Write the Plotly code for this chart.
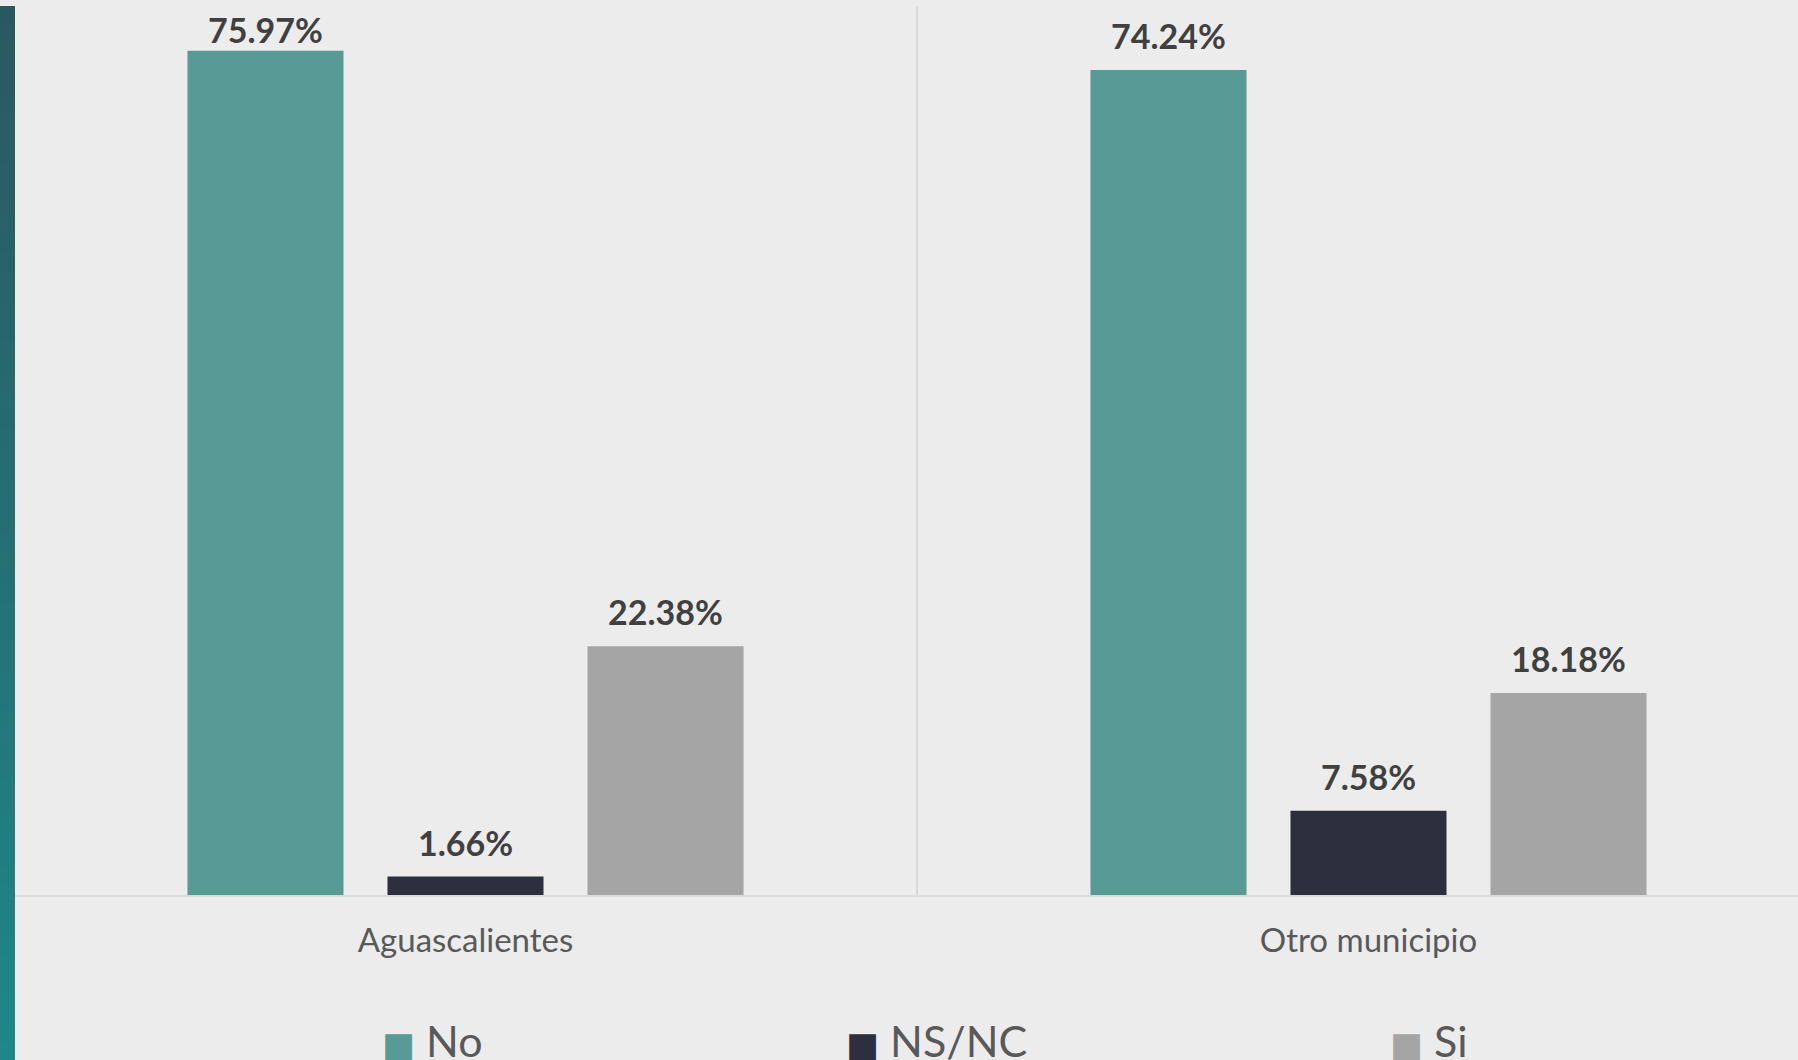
import plotly.graph_objects as go

# ---- data ----
categories = ["Aguascalientes", "Otro municipio"]
series_names = ["No", "NS/NC", "Si"]
values_no = [75.97, 74.24]
values_nsnc = [1.66, 7.58]
values_si = [22.38, 18.18]
series_values = [values_no, values_nsnc, values_si]
series_colors = ["#589a95", "#2e2f3e", "#a5a5a5"]

# ---- layout constants ----
W, H = 1798, 1060
ML, MR, MT, MB = 14, 0, 6, 165
PW = W - ML - MR
PH = H - MT - MB
YMAX = 80
CAT_PX = 903
XR = [-0.5, -0.5 + PW / CAT_PX]
BARGAP = 0.3355
GROUPGAP = 0.22
BG = "#ececec"
FONT = "Lato, 'Open Sans', sans-serif"

fig = go.Figure()

for name, vals, col in zip(series_names, series_values, series_colors):
    fig.add_trace(go.Bar(
        x=categories, y=vals, name=name,
        marker=dict(color=col, line=dict(width=0)),
        showlegend=False, hoverinfo="skip",
    ))

# legend entries (one legend per series, placed like the original)
legend_px = [382, 846, 1390]
legend_ids = ["legend", "legend2", "legend3"]
for name, col, lid in zip(series_names, series_colors, legend_ids):
    fig.add_trace(go.Scatter(
        x=[None], y=[None], mode="none", legend=lid,
        name=f'<span style="color:{col};font-family:DejaVu Sans;font-size:35px">■</span> {name}',
        showlegend=True,
    ))

# value labels above bars
slot = (1 - BARGAP) / len(series_names)
pxu = PH / YMAX
annotations = []
for i, (vals, col) in enumerate(zip(series_values, series_colors)):
    off = (i - (len(series_names) - 1) / 2) * slot
    for ci, v in enumerate(vals):
        gap = min(12, (YMAX - v) * pxu - 46)
        annotations.append(dict(
            x=ci + off, y=v, xref="x", yref="y",
            text=f"<b>{v:.2f}%</b>", showarrow=False,
            yanchor="bottom", yshift=gap,
            font=dict(family=FONT, size=34, color="#404040"),
        ))

# left decorative gradient strip
shapes = []
N = 60
top_c = (0x2b, 0x58, 0x60)
bot_c = (0x1f, 0x87, 0x87)
y_top = 1.0
y_bot = -MB / PH
for k in range(N):
    t = k / (N - 1)
    c = tuple(int(round(top_c[j] + (bot_c[j] - top_c[j]) * t)) for j in range(3))
    y0 = y_top - (y_top - y_bot) * k / N
    y1 = y_top - (y_top - y_bot) * (k + 1) / N
    shapes.append(dict(
        type="rect", xref="paper", yref="paper",
        x0=-ML / PW, x1=(15 - ML) / PW, y0=y1 - 0.001, y1=y0,
        fillcolor="rgb(%d,%d,%d)" % c, line=dict(width=0), layer="above",
    ))

legend_common = dict(
    orientation="h", yanchor="top", xanchor="left",
    font=dict(family=FONT, size=43, color="#595959"),
    bgcolor="rgba(0,0,0,0)", itemwidth=30,
)
leg_y = (PH - (1006 - MT)) / PH

fig.update_layout(
    width=W, height=H,
    margin=dict(l=ML, r=MR, t=MT, b=MB, autoexpand=False),
    paper_bgcolor=BG, plot_bgcolor=BG,
    barmode="group", bargap=BARGAP, bargroupgap=GROUPGAP,
    font=dict(family=FONT),
    xaxis=dict(
        range=XR, tickson="boundaries", showgrid=True,
        gridcolor="#d9d9d9", gridwidth=2,
        showline=True, linecolor="#dadada", linewidth=2,
        ticks="", ticklabelstandoff=15,
        tickfont=dict(family=FONT, size=33, color="#595959"),
        fixedrange=True,
    ),
    yaxis=dict(
        range=[0, YMAX], visible=False, showgrid=False, zeroline=False,
        fixedrange=True,
    ),
    annotations=annotations,
    shapes=shapes,
    legend=dict(legend_common, x=(legend_px[0] - 40 - ML) / PW, y=leg_y),
    legend2=dict(legend_common, x=(legend_px[1] - 40 - ML) / PW, y=leg_y),
    legend3=dict(legend_common, x=(legend_px[2] - 40 - ML) / PW, y=leg_y),
)

fig.write_html(
    "out.html",
    config={"displayModeBar": False},
    post_script="document.body.style.margin='0';document.body.style.background='%s';" % BG,
)
